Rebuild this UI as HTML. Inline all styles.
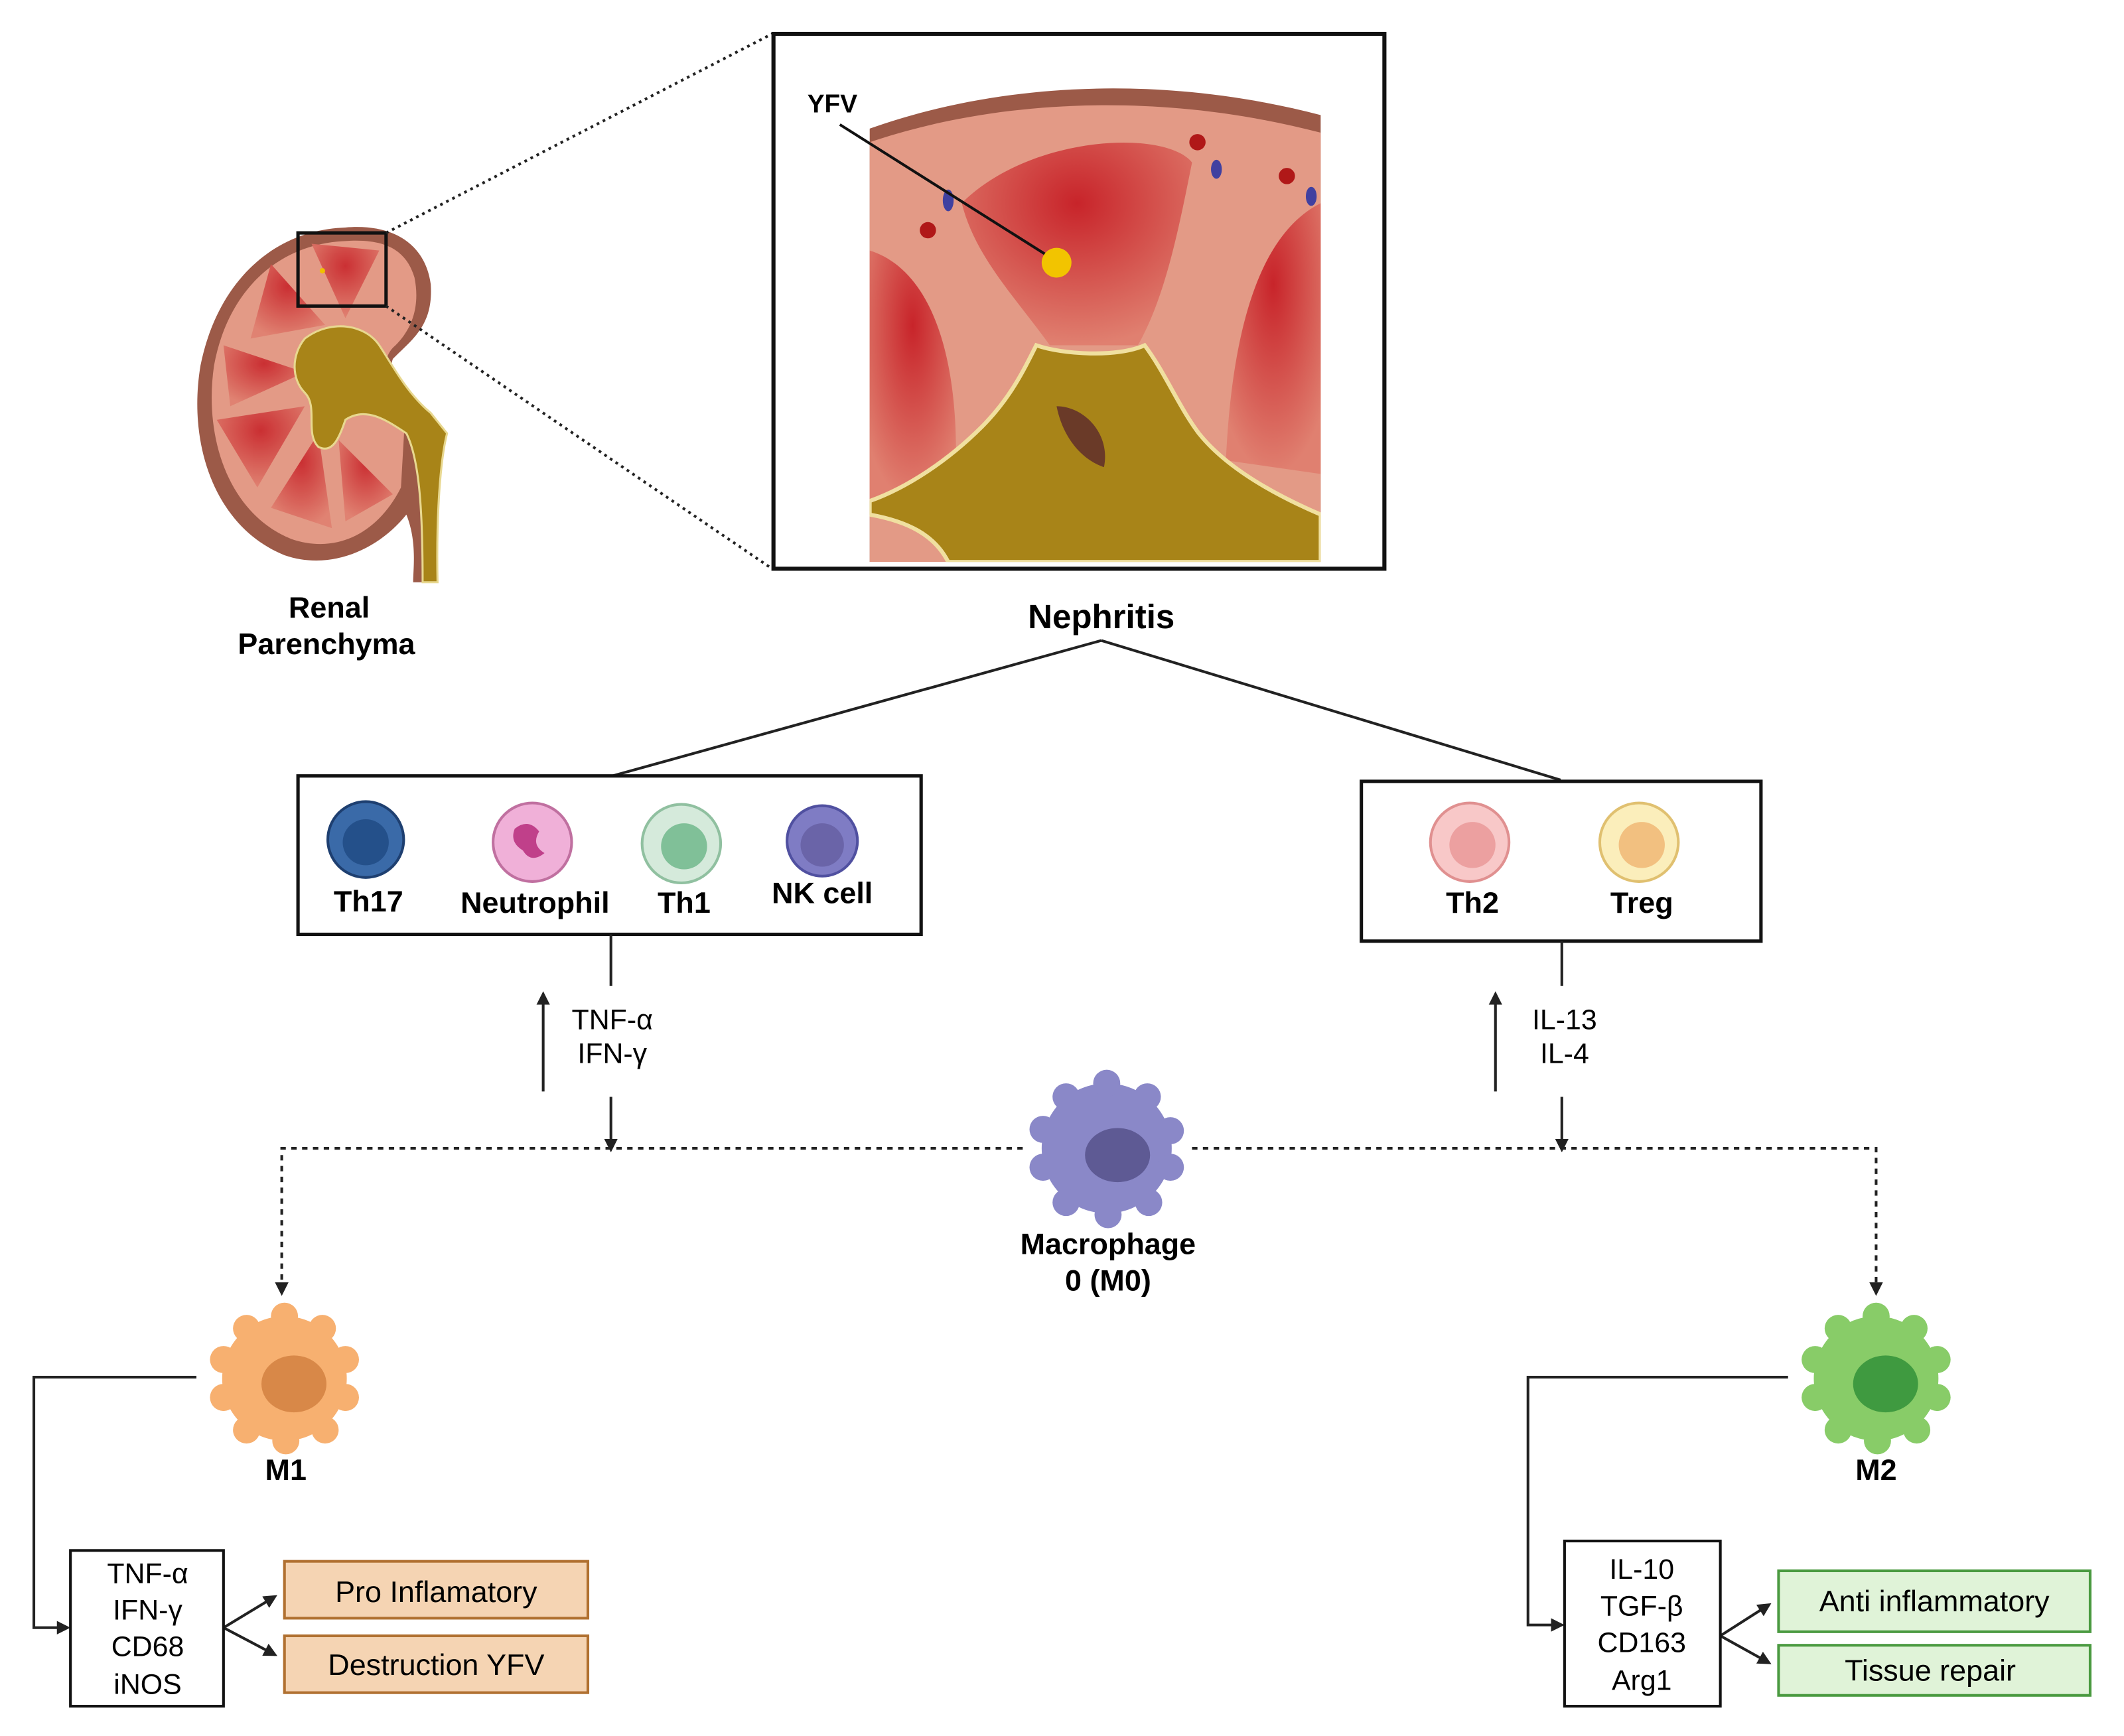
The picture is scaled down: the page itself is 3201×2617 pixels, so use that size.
<!DOCTYPE html>
<html><head><meta charset="utf-8">
<style>
html,body{margin:0;padding:0;background:#fff;}
svg{display:block;}
text{font-family:"Liberation Sans",sans-serif;}
</style></head>
<body>
<svg width="3201" height="2617" viewBox="0 0 1568 1282" preserveAspectRatio="none" xmlns="http://www.w3.org/2000/svg">
<defs>
<marker id="ah" markerWidth="10" markerHeight="10" refX="8" refY="5" orient="auto" markerUnits="userSpaceOnUse">
<path d="M0,0 L10,5 L0,10 z" fill="#222"/></marker>
<radialGradient id="pyr" cx="50%" cy="30%" r="70%"><stop offset="0" stop-color="#c8242a"/><stop offset="1" stop-color="#e08070"/></radialGradient>
<clipPath id="zc"><rect x="642" y="55" width="333" height="360"/></clipPath>
</defs>
<rect width="1568" height="1282" fill="#fff"/>

<!-- Kidney -->
<path d="M320,430 C318,380 325,340 312,305 C300,285 285,280 290,265 C305,250 320,240 318,210 C314,180 290,165 255,168 C200,170 160,210 148,270 C138,330 160,390 210,410 C245,422 280,405 300,380 C308,400 305,420 305,430 Z" fill="#9c5a48"/>
<path d="M255,178 C205,180 168,215 158,270 C150,325 170,380 215,398 C250,410 280,392 296,360 L300,290 C285,280 280,265 292,255 C305,242 310,225 306,205 C300,185 285,176 255,178Z" fill="#e39a86"/>
<g fill="url(#pyr)" opacity=".9">
<path d="M200,195 L240,240 L185,250 Z"/><path d="M165,255 L225,275 L170,300 Z"/><path d="M160,310 L225,300 L190,360 Z"/><path d="M200,375 L235,320 L245,390 Z"/><path d="M255,385 L250,325 L290,365 Z"/><path d="M230,180 L280,185 L255,235 Z"/>
</g>
<path d="M225,250 C245,235 270,240 280,255 C290,270 300,290 318,305 L330,320 C325,340 322,380 323,430 L312,430 C312,380 310,340 300,320 C285,310 270,300 255,310 C250,325 245,335 235,330 C225,320 235,300 225,290 C215,280 215,262 225,250Z" fill="#a88418" stroke="#e8d890" stroke-width="1.5"/>
<rect x="220" y="172" width="65" height="54" fill="none" stroke="#111" stroke-width="2.5"/>
<circle cx="238" cy="200" r="2" fill="#f0c000"/>
<line x1="285" y1="172" x2="570" y2="25" stroke="#222" stroke-width="2" stroke-dasharray="2,3"/>
<line x1="285" y1="226" x2="570" y2="420" stroke="#222" stroke-width="2" stroke-dasharray="2,3"/>
<text x="243" y="456" font-size="22" font-weight="bold" text-anchor="middle">Renal</text>
<text x="241" y="483" font-size="22" font-weight="bold" text-anchor="middle">Parenchyma</text>

<!-- Zoom box -->
<rect x="571" y="25" width="451" height="395" fill="#fff" stroke="#111" stroke-width="3"/>
<g clip-path="url(#zc)">
<path d="M642,95 C740,60 860,55 975,85 L975,415 L642,415 Z" fill="#9c5a48"/>
<path d="M642,105 C740,72 860,68 975,98 L975,415 L642,415 Z" fill="#e39a86"/>
<path d="M710,150 C760,100 860,95 880,120 C870,170 860,220 840,255 L775,255 C750,220 720,190 710,150Z" fill="url(#pyr)"/>
<path d="M642,185 C690,200 710,270 705,360 L642,370 Z" fill="url(#pyr)"/>
<path d="M975,150 C935,170 910,230 905,340 L975,350 Z" fill="url(#pyr)"/>
<path d="M765,255 C785,262 825,264 845,255 C860,275 870,300 885,320 C905,345 940,365 975,380 L975,415 L700,415 C690,395 670,385 642,380 L642,370 C670,360 700,340 725,315 C745,295 755,275 765,255Z" fill="#a88418" stroke="#f0e0a0" stroke-width="3"/>
<path d="M780,300 C800,300 820,320 815,345 C800,340 785,325 780,300Z" fill="#6a3a28"/>
<circle cx="884" cy="105" r="6" fill="#b01818"/><circle cx="950" cy="130" r="6" fill="#b01818"/><circle cx="685" cy="170" r="6" fill="#b01818"/>
<ellipse cx="700" cy="148" rx="4" ry="8" fill="#4040a0"/><ellipse cx="898" cy="125" rx="4" ry="7" fill="#4040a0"/><ellipse cx="968" cy="145" rx="4" ry="7" fill="#4040a0"/>
</g>
<line x1="620" y1="92" x2="780" y2="193" stroke="#111" stroke-width="2"/>
<circle cx="780" cy="194" r="11" fill="#f2c400"/>
<text x="596" y="83" font-size="19" font-weight="bold">YFV</text>

<text x="813" y="464" font-size="25" font-weight="bold" text-anchor="middle">Nephritis</text>
<line x1="813" y1="473" x2="452" y2="573" stroke="#222" stroke-width="2"/>
<line x1="813" y1="473" x2="1152" y2="576" stroke="#222" stroke-width="2"/>

<!-- Left cell box -->
<rect x="220" y="573" width="460" height="117" fill="#fff" stroke="#111" stroke-width="2.5"/>
<circle cx="270" cy="620" r="28" fill="#3a6aa8" stroke="#1e3f70" stroke-width="2"/><circle cx="270" cy="622" r="17" fill="#24508a"/>
<circle cx="393" cy="622" r="29" fill="#f0b0d8" stroke="#c070a0" stroke-width="2"/><path d="M380,612 q10,-8 18,2 q-6,10 4,16 q-10,8 -16,-2 q-10,-6 -6,-16z" fill="#c0408a"/>
<circle cx="503" cy="623" r="29" fill="#d5eadb" stroke="#90c0a0" stroke-width="2"/><circle cx="505" cy="625" r="17" fill="#80c098"/>
<circle cx="607" cy="621" r="26" fill="#7f7cc4" stroke="#5050a0" stroke-width="2"/><circle cx="607" cy="624" r="16" fill="#6a64a8"/>
<g font-size="22" font-weight="bold" text-anchor="middle">
<text x="272" y="673">Th17</text><text x="395" y="674">Neutrophil</text><text x="505" y="674">Th1</text><text x="607" y="667">NK cell</text>
</g>
<!-- Right cell box -->
<rect x="1005" y="577" width="295" height="118" fill="#fff" stroke="#111" stroke-width="2.5"/>
<circle cx="1085" cy="622" r="29" fill="#f8c8c8" stroke="#e09090" stroke-width="2"/><circle cx="1087" cy="624" r="17" fill="#eca0a0"/>
<circle cx="1210" cy="622" r="29" fill="#fbeebb" stroke="#e0c070" stroke-width="2"/><circle cx="1212" cy="624" r="17" fill="#f2c080"/>
<g font-size="22" font-weight="bold" text-anchor="middle"><text x="1087" y="674">Th2</text><text x="1212" y="674">Treg</text></g>

<!-- cytokine arrows -->
<g stroke="#222" stroke-width="2" fill="none">
<line x1="451" y1="690" x2="451" y2="728"/>
<line x1="401" y1="806" x2="401" y2="734" marker-end="url(#ah)"/>
<line x1="451" y1="810" x2="451" y2="849" marker-end="url(#ah)"/>
<line x1="1153" y1="695" x2="1153" y2="728"/>
<line x1="1104" y1="806" x2="1104" y2="734" marker-end="url(#ah)"/>
<line x1="1153" y1="810" x2="1153" y2="849" marker-end="url(#ah)"/>
</g>
<g font-size="21" text-anchor="middle">
<text x="452" y="760">TNF-α</text><text x="452" y="785">IFN-γ</text>
<text x="1155" y="760">IL-13</text><text x="1155" y="785">IL-4</text>
</g>

<!-- dashed lines -->
<g stroke="#222" stroke-width="2" fill="none" stroke-dasharray="4,4">
<path d="M755,848 L208,848 L208,955" marker-end="url(#ah)"/>
<path d="M880,848 L1385,848 L1385,955" marker-end="url(#ah)"/>
</g>

<!-- Macrophage -->
<g fill="#8a88c8">
<circle cx="817" cy="848" r="48"/>
<circle cx="817" cy="800" r="10"/><circle cx="847" cy="810" r="10"/><circle cx="864" cy="835" r="10"/><circle cx="864" cy="862" r="10"/><circle cx="848" cy="888" r="10"/><circle cx="818" cy="897" r="10"/><circle cx="787" cy="888" r="10"/><circle cx="770" cy="862" r="10"/><circle cx="770" cy="834" r="10"/><circle cx="787" cy="810" r="10"/>
</g>
<ellipse cx="825" cy="853" rx="24" ry="20" fill="#5e5a94"/>
<text x="818" y="926" font-size="22" font-weight="bold" text-anchor="middle">Macrophage</text>
<text x="818" y="953" font-size="22" font-weight="bold" text-anchor="middle">0 (M0)</text>

<!-- M1 -->
<g fill="#f7b070">
<circle cx="210" cy="1018" r="46"/>
<circle cx="210" cy="972" r="10"/><circle cx="238" cy="981" r="10"/><circle cx="255" cy="1004" r="10"/><circle cx="255" cy="1032" r="10"/><circle cx="240" cy="1056" r="10"/><circle cx="211" cy="1064" r="10"/><circle cx="182" cy="1056" r="10"/><circle cx="165" cy="1032" r="10"/><circle cx="165" cy="1004" r="10"/><circle cx="182" cy="981" r="10"/>
</g>
<ellipse cx="217" cy="1022" rx="24" ry="21" fill="#d88848"/>
<text x="211" y="1093" font-size="22" font-weight="bold" text-anchor="middle">M1</text>
<!-- M2 -->
<g fill="#88cc68">
<circle cx="1385" cy="1018" r="46"/>
<circle cx="1385" cy="972" r="10"/><circle cx="1413" cy="981" r="10"/><circle cx="1430" cy="1004" r="10"/><circle cx="1430" cy="1032" r="10"/><circle cx="1415" cy="1056" r="10"/><circle cx="1386" cy="1064" r="10"/><circle cx="1357" cy="1056" r="10"/><circle cx="1340" cy="1032" r="10"/><circle cx="1340" cy="1004" r="10"/><circle cx="1357" cy="981" r="10"/>
</g>
<ellipse cx="1392" cy="1022" rx="24" ry="21" fill="#3f9a40"/>
<text x="1385" y="1093" font-size="22" font-weight="bold" text-anchor="middle">M2</text>

<!-- bottom connectors -->
<g stroke="#222" stroke-width="2" fill="none">
<path d="M145,1017 L25,1017 L25,1202 L50,1202" marker-end="url(#ah)"/>
<path d="M165,1202 L203,1179" marker-end="url(#ah)"/>
<path d="M165,1202 L203,1222" marker-end="url(#ah)"/>
<path d="M1320,1017 L1128,1017 L1128,1200 L1153,1200" marker-end="url(#ah)"/>
<path d="M1270,1208 L1306,1185" marker-end="url(#ah)"/>
<path d="M1270,1208 L1306,1228" marker-end="url(#ah)"/>
</g>
<rect x="52" y="1145" width="113" height="115" fill="#fff" stroke="#111" stroke-width="2"/>
<g font-size="21" text-anchor="middle">
<text x="109" y="1169">TNF-α</text><text x="109" y="1196">IFN-γ</text><text x="109" y="1223">CD68</text><text x="109" y="1251">iNOS</text>
</g>
<rect x="210" y="1153" width="224" height="42" fill="#f5d4b3" stroke="#b07030" stroke-width="2"/>
<rect x="210" y="1208" width="224" height="42" fill="#f5d4b3" stroke="#b07030" stroke-width="2"/>
<text x="322" y="1183" font-size="22" text-anchor="middle">Pro Inflamatory</text>
<text x="322" y="1237" font-size="22" text-anchor="middle">Destruction YFV</text>

<rect x="1155" y="1138" width="115" height="122" fill="#fff" stroke="#111" stroke-width="2"/>
<g font-size="21" text-anchor="middle">
<text x="1212" y="1166">IL-10</text><text x="1212" y="1193">TGF-β</text><text x="1212" y="1220">CD163</text><text x="1212" y="1248">Arg1</text>
</g>
<rect x="1313" y="1160" width="230" height="45" fill="#e0f3d8" stroke="#4a9a40" stroke-width="2"/>
<rect x="1313" y="1215" width="230" height="37" fill="#e0f3d8" stroke="#4a9a40" stroke-width="2"/>
<text x="1428" y="1190" font-size="22" text-anchor="middle">Anti inflammatory</text>
<text x="1425" y="1241" font-size="22" text-anchor="middle">Tissue repair</text>
</svg>
</body></html>
